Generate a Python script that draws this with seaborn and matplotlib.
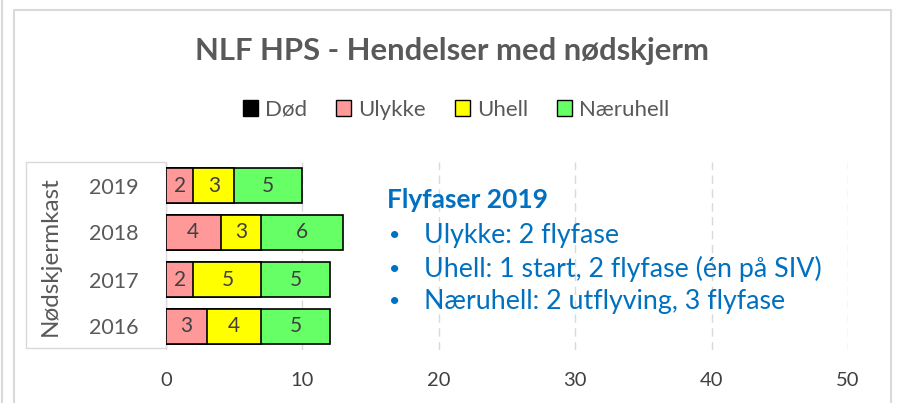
import matplotlib
matplotlib.use("Agg")
import matplotlib.pyplot as plt
import matplotlib.patches as mpatches
from matplotlib.lines import Line2D
import seaborn as sns
import pandas as pd
import numpy as np

years = ["2019", "2018", "2017", "2016"]
dod = [0, 0, 0, 0]
ulykke = [2, 4, 2, 3]
uhell = [3, 3, 5, 4]
naeruhell = [5, 6, 5, 5]
series_names = ["Død", "Ulykke", "Uhell", "Næruhell"]
colors = ["#000000", "#FF9999", "#FFFF00", "#66FF66"]
xticks = [0, 10, 20, 30, 40, 50]
title = "NLF HPS - Hendelser med nødskjerm"
ylabel = "Nødskjermkast"
note_title = "Flyfaser 2019"
note_lines = ["Ulykke: 2 flyfase",
              "Uhell: 1 start, 2 flyfase (én på SIV)",
              "Næruhell: 2 utflyving, 3 flyfase"]

sns.set_style("white")
plt.rcParams['font.family'] = ['Lato', 'DejaVu Sans']
TXT = "#595959"

fig = plt.figure(figsize=(8.99, 4.03), dpi=100)
ax = fig.add_axes([166/899, 1-350/403, (848-166)/899, (350-162)/403])

df = pd.DataFrame({"year": years, "dod": dod, "ulykke": ulykke,
                   "uhell": uhell, "naeruhell": naeruhell})
df["c1"] = df["dod"] + df["ulykke"]
df["c2"] = df["c1"] + df["uhell"]
df["c3"] = df["c2"] + df["naeruhell"]

for col, c in [("c3", colors[3]), ("c2", colors[2]), ("c1", colors[1])]:
    sns.barplot(data=df, y="year", x=col, order=years, orient="h", color=c,
                saturation=1, width=0.73, edgecolor="black", linewidth=1.2, ax=ax,
                zorder=3)

# segment labels
for i, row in df.iterrows():
    starts = [row["dod"], row["c1"], row["c2"]]
    vals = [row["ulykke"], row["uhell"], row["naeruhell"]]
    for s, v in zip(starts, vals):
        if v > 0:
            ax.text(s + v/2, i, str(v), ha="center", va="center",
                    fontsize=15, color="#404040", zorder=4)

ax.set_xlim(0, 50)
ax.set_ylim(3.5, -0.5)
ax.set_xticks(xticks)
ax.set_xticklabels([str(t) for t in xticks])
ax.tick_params(axis="x", length=0, pad=16, labelsize=14.5, labelcolor="#404040")
ax.tick_params(axis="y", length=0, pad=20, labelsize=15.5, labelcolor=TXT)
ax.set_xlabel("")
ax.set_ylabel(ylabel, fontsize=17.5, color=TXT, labelpad=20)
for sp in ax.spines.values():
    sp.set_visible(False)
ax.grid(axis="x", color="#D9D9D9", linestyle=(0, (6, 4)), linewidth=1, zorder=0)
ax.set_axisbelow(True)

# box around category axis
ax.add_patch(mpatches.Rectangle((-140/682, 2/188), 140/682, 186/188,
                                transform=ax.transAxes, fill=False,
                                edgecolor="#D9D9D9", linewidth=1, clip_on=False))

# figure frame
fig.add_artist(mpatches.Rectangle((14/899, -0.1), (891-14)/899, 1.1 - 10/403,
                                  transform=fig.transFigure, fill=False,
                                  edgecolor="#D9D9D9", linewidth=1.5))
fig.add_artist(Line2D([2/899, 2/899], [0, 1], transform=fig.transFigure,
                      color="#D9D9D9", linewidth=1.5))

fig.text(452/899, 1-51/403, title, ha="center", va="center", fontsize=22.3,
         fontweight="bold", color=TXT)

handles = [mpatches.Patch(facecolor=c, edgecolor="black", linewidth=1, label=n)
           for c, n in zip(colors, series_names)]
fig.legend(handles=handles, loc="center", bbox_to_anchor=(456/899, 1-110/403),
           ncol=4, frameon=False, fontsize=16, labelcolor=TXT, handlelength=0.7,
           handleheight=0.7, handletextpad=0.3, columnspacing=1.3)

BLUE = "#0070C0"
fig.text(387/899, 1-200/403, note_title, ha="left", va="center", fontsize=19,
         fontweight="bold", color=BLUE)
for k, line in enumerate(note_lines):
    y = 1 - (236 + k*33)/403
    fig.text(389/899, y, "•", ha="left", va="center", fontsize=14, color=BLUE)
    fig.text(424/899, y, line, ha="left", va="center", fontsize=19.3, color=BLUE)

fig.savefig("out.png", dpi=100)
